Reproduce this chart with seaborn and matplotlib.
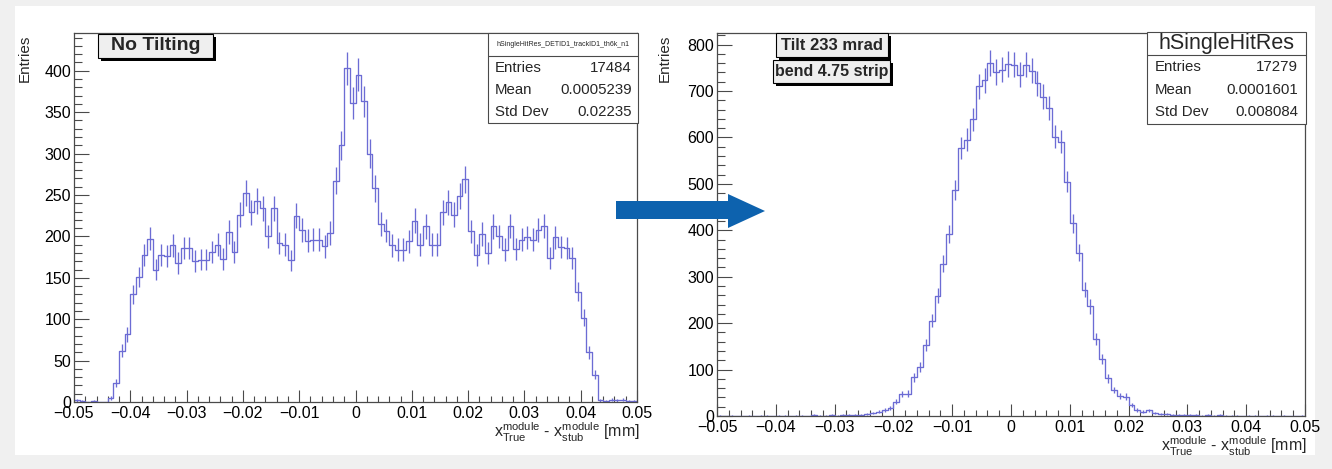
import numpy as np
import pandas as pd
import matplotlib
matplotlib.use("Agg")
import matplotlib.pyplot as plt
import seaborn as sns
from matplotlib.patches import Rectangle, Polygon
from matplotlib.ticker import MultipleLocator, FixedLocator, FixedFormatter

sns.set_theme(style="ticks")
plt.rcParams['font.family'] = ['Liberation Sans', 'DejaVu Sans']
plt.rcParams['mathtext.default'] = 'regular'

# ---- data ----
x_range = (-0.05, 0.05)
n_bins = 100

counts_no_tilt = [
    2, 1, 0, 1, 0, 0, 5, 23, 62, 82,
    130, 151, 178, 197, 160, 178, 176, 189, 168, 186,
    186, 170, 172, 172, 181, 190, 173, 205, 181, 226,
    252, 229, 243, 234, 200, 234, 192, 190, 171, 225,
    208, 195, 196, 196, 188, 204, 267, 310, 403, 361,
    395, 363, 300, 258, 215, 207, 189, 184, 184, 194,
    219, 190, 212, 190, 190, 229, 241, 226, 249, 269,
    206, 178, 203, 180, 212, 200, 184, 213, 185, 196,
    199, 196, 208, 213, 174, 199, 187, 186, 174, 133,
    102, 60, 33, 2, 1, 3, 2, 3, 1, 1,
]

counts_tilt = [
    1, 0, 1, 0, 0, 1, 0, 1, 1, 0,
    1, 1, 0, 1, 1, 0, 2, 1, 1, 2,
    1, 2, 2, 3, 3, 4, 6, 9, 13, 18,
    31, 47, 48, 83, 105, 153, 205, 259, 328, 392,
    487, 577, 595, 639, 710, 723, 760, 741, 746, 758,
    757, 735, 757, 744, 717, 688, 663, 602, 591, 505,
    415, 352, 272, 236, 165, 122, 81, 56, 43, 42,
    24, 13, 9, 12, 7, 5, 4, 3, 3, 2,
    3, 2, 1, 2, 1, 2, 1, 1, 1, 0,
    1, 1, 0, 1, 1, 0, 1, 0, 0, 1,
]

x_ticks = [-0.05, -0.04, -0.03, -0.02, -0.01, 0.0, 0.01, 0.02, 0.03, 0.04, 0.05]
x_tick_labels = ['\u22120.05', '\u22120.04', '\u22120.03', '\u22120.02', '\u22120.01', '0',
                 '0.01', '0.02', '0.03', '0.04', '0.05']
y_ticks_left = [0, 50, 100, 150, 200, 250, 300, 350, 400]
y_ticks_right = [0, 100, 200, 300, 400, 500, 600, 700, 800]

stats_left = [("Entries", "17484"), ("Mean", "0.0005239"), ("Std Dev", "0.02235")]
stats_right = [("Entries", "17279"), ("Mean", "0.0001601"), ("Std Dev", "0.008084")]
name_left = "hSingleHitRes_DETID1_trackID1_th6k_n1"
name_right = "hSingleHitRes"
xlabel = r'$x^{module}_{True}$ - $x^{module}_{stub}$ [mm]'

W, H = 1332, 469
LINE = '#6c6cd4'
FRAME = '#4a4a4a'

fig = plt.figure(figsize=(W / 100, H / 100), dpi=100)
fig.patch.set_facecolor('#f0f0f0')


def fx(x):
    return x / W


def fy(y):
    return 1 - y / H


def box(x0, y0, x1, y1, face, edge='black', lw=0.8, shadow=0, z=6):
    if shadow:
        fig.add_artist(Rectangle((fx(x0 + shadow), fy(y1 + shadow)), (x1 - x0) / W, (y1 - y0) / H,
                                 transform=fig.transFigure, facecolor='black',
                                 edgecolor='none', zorder=z))
    fig.add_artist(Rectangle((fx(x0), fy(y1)), (x1 - x0) / W, (y1 - y0) / H,
                             transform=fig.transFigure, facecolor=face,
                             edgecolor=edge, lw=lw, zorder=z + 0.1))


# white canvas area
fig.add_artist(Rectangle((fx(15), fy(455)), 1300 / W, 449 / H, transform=fig.transFigure,
                         facecolor='white', edgecolor='none', zorder=-1))


def draw_hist(ax, counts, ymax, y_ticks, y_minor):
    counts = np.asarray(counts, dtype=float)
    edges = np.linspace(x_range[0], x_range[1], n_bins + 1)
    centers = 0.5 * (edges[:-1] + edges[1:])
    df = pd.DataFrame({"x": centers, "n": counts})
    sns.histplot(data=df, x="x", weights="n", bins=n_bins, binrange=x_range,
                 element="step", fill=False, color=LINE, linewidth=0.95, ax=ax)
    err = np.sqrt(counts)
    m = counts > 0
    ax.vlines(centers[m], counts[m] - err[m], counts[m] + err[m], color=LINE, lw=0.95)

    ax.set_xlim(*x_range)
    ax.set_ylim(0, ymax)
    ax.xaxis.set_major_locator(FixedLocator(x_ticks))
    ax.xaxis.set_major_formatter(FixedFormatter(x_tick_labels))
    ax.xaxis.set_minor_locator(MultipleLocator(0.002))
    ax.yaxis.set_major_locator(FixedLocator(y_ticks))
    ax.yaxis.set_major_formatter(FixedFormatter([str(v) for v in y_ticks]))
    ax.yaxis.set_minor_locator(MultipleLocator(y_minor))
    ax.tick_params(axis='x', which='major', direction='in', length=8.5, width=0.8,
                   color=FRAME, labelsize=11.5, pad=3, labelcolor='black')
    ax.tick_params(axis='x', which='minor', direction='in', length=4, width=0.8, color=FRAME)
    ax.tick_params(axis='y', which='major', direction='in', length=11, width=0.8,
                   color=FRAME, labelsize=11.5, pad=2, labelcolor='black')
    ax.tick_params(axis='y', which='minor', direction='in', length=5.5, width=0.8, color=FRAME)
    for s in ax.spines.values():
        s.set_visible(True)
        s.set_color(FRAME)
        s.set_linewidth(0.9)
    ax.set_facecolor('white')
    ax.grid(False)
    ax.set_xlabel(xlabel, loc='right', fontsize=11.5)
    ax.set_ylabel('Entries', loc='top', fontsize=11)


ax1 = fig.add_axes([fx(74), fy(402), 563 / W, 369 / H])
draw_hist(ax1, counts_no_tilt, 445.6, y_ticks_left, 10)
ax1.xaxis.set_label_coords(1.005, -0.05)
ax1.yaxis.set_label_coords(-0.075, 0.995)

ax2 = fig.add_axes([fx(717), fy(416), 588 / W, 383 / H])
draw_hist(ax2, counts_tilt, 825, y_ticks_right, 20)
ax2.xaxis.set_label_coords(1.003, -0.048)
ax2.yaxis.set_label_coords(-0.077, 0.995)

# stats boxes
box(488, 33, 638, 123, 'white', edge=FRAME)
fig.add_artist(plt.Line2D([fx(488), fx(638)], [fy(56), fy(56)], transform=fig.transFigure,
                          color=FRAME, lw=0.8, zorder=7))
fig.text(fx(563), fy(44.5), name_left, fontsize=5, ha='center', va='center', zorder=8)
for (lab, val), y in zip(stats_left, [68, 90, 112]):
    fig.text(fx(495), fy(y), lab, fontsize=10.8, ha='left', va='center', zorder=8)
    fig.text(fx(632), fy(y), val, fontsize=10.8, ha='right', va='center', zorder=8)

box(1147, 32, 1306, 124, 'white', edge=FRAME)
fig.add_artist(plt.Line2D([fx(1147), fx(1306)], [fy(55), fy(55)], transform=fig.transFigure,
                          color=FRAME, lw=0.8, zorder=7))
fig.text(fx(1227), fy(43.5), name_right, fontsize=15.5, ha='center', va='center', zorder=8)
for (lab, val), y in zip(stats_right, [67, 90, 112]):
    fig.text(fx(1155), fy(y), lab, fontsize=10.8, ha='left', va='center', zorder=8)
    fig.text(fx(1298), fy(y), val, fontsize=10.8, ha='right', va='center', zorder=8)

# label boxes
box(98, 34, 213, 58, '#efefef', shadow=3)
fig.text(fx(155.5), fy(46), 'No Tilting', fontsize=14, fontweight='bold', ha='center',
         va='center', zorder=8)
box(776, 33, 888, 57, '#efefef', shadow=3)
fig.text(fx(832), fy(45), 'Tilt 233 mrad', fontsize=12, fontweight='bold', ha='center',
         va='center', zorder=8)
box(773, 60, 890, 83, '#efefef', shadow=3)
fig.text(fx(831.5), fy(71.5), 'bend 4.75 strip', fontsize=11.5, fontweight='bold', ha='center',
         va='center', zorder=8)

# blue arrow between the panels
arrow_px = [(616, 201), (728, 201), (728, 194), (765, 211), (728, 228), (728, 219), (616, 219)]
fig.add_artist(Polygon([(fx(x), fy(y)) for x, y in arrow_px], closed=True,
                       transform=fig.transFigure, facecolor='#0d62ae', edgecolor='none', zorder=10))

fig.savefig("out.png", dpi=100, facecolor=fig.get_facecolor())
